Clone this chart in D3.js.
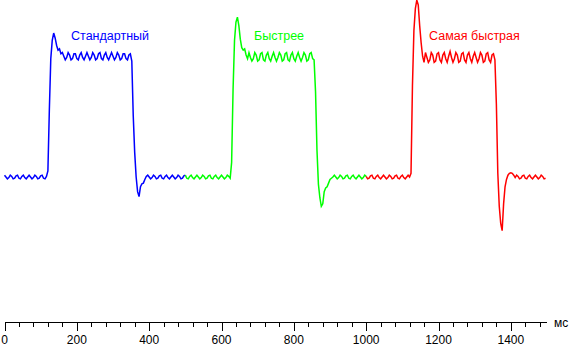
<!DOCTYPE html>
<html>
<head>
<meta charset="utf-8">
<script src="https://cdn.jsdelivr.net/npm/d3@7/dist/d3.min.js"></script>
<style>
  html, body { margin: 0; padding: 0; background: #fff; }
  svg { display: block; }
  text { font-family: "Liberation Sans", Arial, sans-serif; }
</style>
</head>
<body>
<script>
// Brightness response of the three overdrive modes, sampled every 4 ms.
// Values are relative brightness: 0 = starting level, 100 = settled target level.
const sampleStepMs = 4;
const seriesStartMs = [0, 500, 1000];
const seriesNames = ["Стандартный", "Быстрее", "Самая быстрая"];
const seriesColors = ["#0000ff", "#00ff00", "#ff0000"];

const standardValues = [
  1.5, 0, -1.5, -0.5, 1.5, 0.5, -1.5, -1, 1, 1.5, -1, -1.5, 0.5, 1.5, -0.5,
  -1.5, 0, 1.5, 0, -1.5, -0.5, 1.5, 0.5, -1.5, -1, 1, 1.5, -1, -1.5, 0.5,
  5, 55, 97, 112, 118, 114, 108, 104, 105, 101,
  102, 99, 96, 98, 102, 100, 96, 97, 101, 101, 97, 96, 100, 102, 98, 96, 99, 102, 99, 96, 98, 102, 100, 96, 97,
  101, 102, 97, 96, 100, 102, 98, 96, 99, 102, 99, 96, 98, 102, 100, 96, 97, 101, 101, 97, 96, 100, 101,
  95, 50, 20, 0, -12, -16, -8, -5.5, -5, -2, 0.5,
  1.5, 0, -1.5, -0.5, 1.5, 0.5, -1.5, -1, 1, 1.5, -1, -1.5, 0.5, 1.5, -0.5,
  -1.5, 0, 1.5, 0, -1.5, -0.5, 1.5, 0.5, -1.5, -1, 1, 1.5
];

const fasterValues = [
  1.5, -1, -1.5, 0.5, 1.5, -0.5, -1.5, 0, 1.5, 0, -1.5, -0.5, 1.5, 0.5, -1.5, -1,
  1, 1.5, -1, -1.5, 0.5, 1.5, -0.5, -1.5, 0, 1.5, 0, -1.5, -0.5, 1.5, 0.5, -1,
  12, 72, 112, 127, 131, 124, 113, 106, 104, 105, 100, 97,
  102, 98, 95, 97, 102, 100, 95, 96, 101, 102, 96, 95, 100, 102, 97, 95, 99, 102, 98, 95, 98, 102, 100, 95, 96,
  101, 102, 96, 95, 100, 102, 97, 95, 99, 102, 98, 95, 98, 102, 100, 95, 96, 101, 102, 97,
  96, 70, 22, -6, -17, -24, -22, -12, -9, -8, -5, -2, -1,
  0, 1.5, 0, -1.5, -0.5, 1.5, 0.5, -1.5, -1, 1, 1.5, -1,
  -1.5, 0.5, 1.5, -0.5, -1.5, 0, 1.5, 0, -1.5, -0.5, 1.5, 0.5
];

const fastestValues = [
  0.5, -1.5, -1, 1, 1.5, -1, -1.5, 0.5, 1.5, -0.5, -1.5, 0, 1.5, 0, -1.5, -0.5,
  1.5, 0.5, -1.5, -1, 1, 1.5, -1, -1.5, 0.5, 1.5, -0.5, -1.5, 0, 1.5, 0,
  3, 75, 120, 138, 145, 141, 124, 110, 99, 94,
  102, 98, 94, 96, 102, 100, 94, 95, 101, 102, 96, 94, 100, 102, 97, 94, 99, 103, 98, 94, 97, 102, 100, 94,
  95, 101, 102, 96, 94, 100, 102, 97, 94, 99, 102, 98, 94, 97, 102, 100, 94, 95, 101, 102, 96, 94, 100, 101,
  96, 60, 3, -24, -38, -44, -22, -8, -2, 1.5, 3, 3.5, 3, 1.5,
  -0.5, 1.5, 0.5, -1.5, -1, 1, 1.5, -1, -1.5, 0.5, 1.5,
  -0.5, -1.5, 0, 1.5, 0, -1.5, -0.5, 1.5, 0.5, -1.5, -1
];

const seriesValues = [standardValues, fasterValues, fastestValues];

const xDomainMs = [0, 1500];
const majorTicksMs = [0, 200, 400, 600, 800, 1000, 1200, 1400];
const minorTickStepMs = 40;
const axisUnit = "мс";

// Where each mode's caption sits, in chart coordinates (ms, level).
const labelAnchorMs = [184, 690, 1174];
const labelLevel = 112;

const width = 569, height = 347;
const axisY = 322.5;

const svg = d3.select("body").append("svg")
  .attr("width", width).attr("height", height);

svg.append("rect").attr("width", width).attr("height", height).attr("fill", "#fff");

const x = d3.scaleLinear().domain(xDomainMs).range([4.5, 547]);
const y = d3.scaleLinear().domain([0, 100]).range([177, 55]);

const line = d3.line()
  .x(d => x(d.t))
  .y(d => y(d.v));

seriesValues.forEach((vals, si) => {
  const pts = vals.map((v, i) => ({ t: seriesStartMs[si] + i * sampleStepMs, v }));
  svg.append("path")
    .datum(pts)
    .attr("fill", "none")
    .attr("stroke", seriesColors[si])
    .attr("stroke-width", 1.5)
    .attr("stroke-linejoin", "miter")
    .attr("d", line);

  svg.append("text")
    .attr("x", x(labelAnchorMs[si]))
    .attr("y", y(labelLevel))
    .attr("fill", seriesColors[si])
    .attr("font-size", 12.5)
    .text(seriesNames[si]);
});

// Time axis
const axisG = svg.append("g").attr("shape-rendering", "crispEdges");
axisG.append("line")
  .attr("x1", x(xDomainMs[0])).attr("x2", x(xDomainMs[1]))
  .attr("y1", axisY).attr("y2", axisY)
  .attr("stroke", "#000").attr("stroke-width", 1);

const minorTicks = d3.range(0, xDomainMs[1], minorTickStepMs);
axisG.selectAll("line.minor")
  .data(minorTicks)
  .join("line")
  .attr("class", "minor")
  .attr("x1", d => Math.round(x(d)) + 0.5).attr("x2", d => Math.round(x(d)) + 0.5)
  .attr("y1", axisY).attr("y2", d => majorTicksMs.includes(d) ? axisY + 8 : axisY + 4)
  .attr("stroke", "#000");

svg.selectAll("text.tick")
  .data(majorTicksMs)
  .join("text")
  .attr("class", "tick")
  .attr("x", d => x(d))
  .attr("y", 344)
  .attr("text-anchor", "middle")
  .attr("font-size", 12)
  .attr("fill", "#000")
  .text(d => d);

svg.append("text")
  .attr("x", 554)
  .attr("y", 327)
  .attr("font-size", 12)
  .attr("fill", "#000")
  .text(axisUnit);
</script>
</body>
</html>
